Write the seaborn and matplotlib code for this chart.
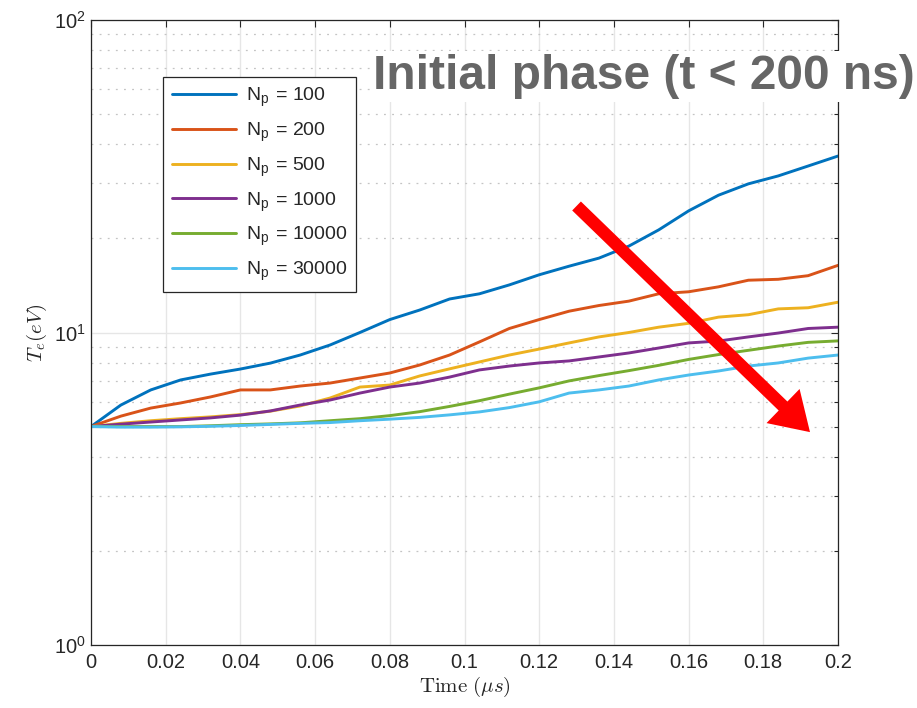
import numpy as np
import pandas as pd
import matplotlib
matplotlib.use("Agg")
import matplotlib.pyplot as plt
import seaborn as sns

# Electron temperature over the initial phase for several particle counts
time_us = [0.000, 0.008, 0.016, 0.024, 0.032, 0.040, 0.048, 0.056, 0.064,
           0.072, 0.080, 0.088, 0.096, 0.104, 0.112, 0.120, 0.128, 0.136,
           0.144, 0.152, 0.160, 0.168, 0.176, 0.184, 0.192, 0.200]

te_np100 = [5.00, 5.86, 6.55, 7.05, 7.36, 7.64, 7.98, 8.47, 9.12, 10.0, 11.0,
            11.8, 12.8, 13.3, 14.2, 15.3, 16.3, 17.3, 18.9, 21.3, 24.5, 27.5,
            29.9, 31.7, 34.1, 36.7]
te_np200 = [5.00, 5.40, 5.73, 5.95, 6.22, 6.55, 6.55, 6.74, 6.89, 7.15, 7.42,
            7.87, 8.47, 9.33, 10.3, 11.0, 11.7, 12.2, 12.6, 13.3, 13.5, 14.0,
            14.7, 14.8, 15.2, 16.4]
te_np500 = [5.00, 5.12, 5.22, 5.30, 5.37, 5.46, 5.60, 5.82, 6.17, 6.69, 6.79,
            7.26, 7.65, 8.05, 8.47, 8.85, 9.26, 9.68, 10.0, 10.4, 10.7, 11.2,
            11.4, 11.9, 12.0, 12.5]
te_np1000 = [5.00, 5.09, 5.17, 5.25, 5.33, 5.44, 5.61, 5.86, 6.08, 6.40, 6.69,
             6.89, 7.20, 7.59, 7.81, 7.99, 8.11, 8.35, 8.60, 8.92, 9.26, 9.39,
             9.68, 9.96, 10.3, 10.4]
te_np10000 = [5.00, 5.00, 5.00, 5.00, 5.03, 5.07, 5.10, 5.14, 5.22, 5.30, 5.42,
              5.58, 5.80, 6.05, 6.35, 6.65, 7.00, 7.28, 7.55, 7.85, 8.20, 8.50,
              8.77, 9.05, 9.30, 9.40]
te_np30000 = [5.00, 4.98, 4.98, 4.99, 5.01, 5.04, 5.08, 5.12, 5.15, 5.22, 5.28,
              5.35, 5.45, 5.57, 5.75, 6.00, 6.40, 6.55, 6.74, 7.05, 7.31, 7.53,
              7.81, 7.99, 8.28, 8.47]

particle_counts = [100, 200, 500, 1000, 10000, 30000]
series = [te_np100, te_np200, te_np500, te_np1000, te_np10000, te_np30000]
colors = ["#0072BD", "#D95319", "#EDB120", "#7E2F8E", "#77AC30", "#4DBEEE"]

x_ticks = [0, 0.02, 0.04, 0.06, 0.08, 0.1, 0.12, 0.14, 0.16, 0.18, 0.2]
x_tick_labels = ["0", "0.02", "0.04", "0.06", "0.08", "0.1", "0.12", "0.14",
                 "0.16", "0.18", "0.2"]

labels = [r"N$_\mathregular{p}$ = %d" % n for n in particle_counts]
frames = [pd.DataFrame({"time": time_us, "Te": vals, "case": lab})
          for vals, lab in zip(series, labels)]
df = pd.concat(frames, ignore_index=True)

sns.set_theme(style="white")
plt.rcParams["font.family"] = ["Liberation Sans", "DejaVu Sans"]
plt.rcParams["mathtext.fontset"] = "cm"

fig = plt.figure(figsize=(9.17, 7.08), dpi=100)
ax = fig.add_axes([91 / 917, 1 - 645 / 708, (838 - 91) / 917, (645 - 20) / 708])

sns.lineplot(data=df, x="time", y="Te", hue="case", hue_order=labels,
             palette=colors, linewidth=2.1, ax=ax, legend=True)

ax.set_yscale("log")
ax.set_xlim(0, 0.2)
ax.set_ylim(1, 100)
ax.set_xticks(x_ticks)
ax.set_xticklabels(x_tick_labels)

# Grid: solid major lines, dotted minor lines on the log axis
ax.grid(True, which="major", color="#e6e6e6", linewidth=1.0, linestyle="-")
ax.grid(True, which="minor", axis="y", color="#c4c4c4", linewidth=0.9,
        linestyle=(0, (1.5, 5)))
ax.set_axisbelow(True)

ax.tick_params(axis="both", which="both", direction="in", top=True,
               right=True, colors="#262626", labelsize=14.5)
ax.tick_params(axis="both", which="major", length=5, width=0.8)
ax.tick_params(axis="y", which="minor", length=3, width=0.8)
ax.tick_params(axis="x", which="major", pad=6)
for lab in ax.get_xticklabels() + ax.get_yticklabels():
    lab.set_color("#262626")
for sp in ax.spines.values():
    sp.set_color("#262626")
    sp.set_linewidth(0.9)

ax.set_xlabel(r"$\mathrm{Time}\ (\mu s)$", fontsize=15, color="#262626",
              labelpad=2)
ax.set_ylabel(r"$T_e(eV)$", fontsize=15, color="#262626", labelpad=4)

leg = ax.legend(loc="upper left", bbox_to_anchor=(163 / 917, 1 - 77 / 708),
                bbox_transform=fig.transFigure, frameon=True, fancybox=False,
                edgecolor="#262626", framealpha=1, fontsize=14,
                handlelength=3.3, handletextpad=0.5, labelspacing=0.58,
                borderpad=0.45, borderaxespad=0)
leg.get_frame().set_linewidth(0.9)
for line in leg.get_lines():
    line.set_linewidth(2.1)

ax.text(0.378, 0.91, "Initial phase (t < 200 ns)", transform=ax.transAxes,
        ha="left", va="center", fontsize=34.5, fontweight="bold",
        color="#666666", clip_on=False,
        bbox=dict(facecolor="white", edgecolor="none", pad=2))

# Trend arrow: temperature rise shrinks as particle count increases
ax.annotate("", xy=(0.1925, 4.8), xytext=(0.130, 25.4),
            arrowprops=dict(arrowstyle="simple,head_length=1.5,head_width=1.9,tail_width=0.5",
                            color="#ff0000", mutation_scale=18, lw=0,
                            shrinkA=0, shrinkB=0))

fig.savefig("out.png", dpi=100)
